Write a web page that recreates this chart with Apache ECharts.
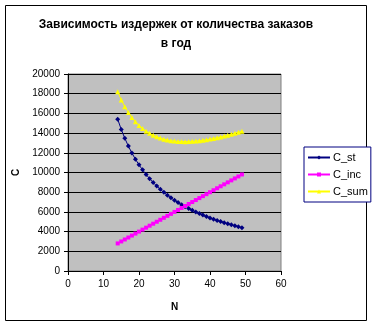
<!DOCTYPE html>
<html><head><meta charset="utf-8">
<script src="https://cdn.jsdelivr.net/npm/echarts@6/dist/echarts.min.js"></script>
<style>html,body{margin:0;padding:0;background:#fff}#c{width:374px;height:327px}</style>
</head><body><div id="c"></div>
<script>
const N = [14,15,16,17,18,19,20,21,22,23,24,25,26,27,28,29,30,31,32,33,34,35,36,37,38,39,40,41,42,43,44,45,46,47,48,49];
const C_st = [15400,14373,13475,12682,11978,11347,10780,10267,9800,9374,8983,8624,8292,7985,7700,7434,7187,6955,6738,6533,6341,6160,5989,5827,5674,5528,5390,5259,5133,5014,4900,4791,4687,4587,4492,4400];
const C_inc = [2800,3000,3200,3400,3600,3800,4000,4200,4400,4600,4800,5000,5200,5400,5600,5800,6000,6200,6400,6600,6800,7000,7200,7400,7600,7800,8000,8200,8400,8600,8800,9000,9200,9400,9600,9800];
const C_sum = [18200,17373,16675,16082,15578,15147,14780,14467,14200,13974,13783,13624,13492,13385,13300,13234,13187,13155,13138,13133,13141,13160,13189,13227,13274,13328,13390,13459,13533,13614,13700,13791,13887,13987,14092,14200];
const seriesNames = ['C_st','C_inc','C_sum'];
const titleText = 'Зависимость издержек от количества заказов\nв год';

const pairs = arr => N.map((n,i)=>[n,arr[i]]);
const font = 'Arial, "Liberation Sans", sans-serif';
const chart = echarts.init(document.getElementById('c'));
chart.setOption({
  animation:false,
  backgroundColor:'#fff',
  title:{text:titleText,left:171,top:10,textAlign:'center',
    textStyle:{fontFamily:font,fontSize:12,fontWeight:'bold',color:'#000',lineHeight:19}},
  graphic:[{type:'rect',shape:{x:5.5,y:5.5,width:361,height:315},style:{fill:'none',stroke:'#000',lineWidth:1},z:-1}],
  grid:{left:68,top:74,width:213,height:197,show:true,backgroundColor:'#c0c0c0',borderColor:'#808080',borderWidth:1},
  legend:{orient:'vertical',left:304,top:147,width:60,padding:[5,3,5,3],itemGap:6,itemWidth:22,itemHeight:5,
    borderColor:'#000080',borderWidth:1,backgroundColor:'#fff',
    textStyle:{fontFamily:font,fontSize:11,color:'#000',padding:[0,0,0,-2]},data:seriesNames},
  xAxis:{type:'value',min:0,max:60,interval:10,name:'N',nameLocation:'middle',nameGap:31,
    nameTextStyle:{fontFamily:font,fontSize:10,fontWeight:'bold',color:'#000'},
    axisLine:{show:true,lineStyle:{color:'#000'}},axisTick:{show:true,length:4,lineStyle:{color:'#000'}},
    axisLabel:{fontFamily:font,fontSize:10,color:'#000',margin:8},splitLine:{show:false}},
  yAxis:{type:'value',min:0,max:20000,interval:2000,name:'C',nameLocation:'middle',nameGap:45,nameRotate:90,
    nameTextStyle:{fontFamily:font,fontSize:10,fontWeight:'bold',color:'#000'},
    axisLine:{show:true,lineStyle:{color:'#000'}},axisTick:{show:true,length:4,lineStyle:{color:'#000'}},
    axisLabel:{fontFamily:font,fontSize:10,color:'#000',margin:8,formatter:v=>String(v)},
    splitLine:{show:true,lineStyle:{color:'#000',width:1}}},
  series:[
    {name:'C_st',type:'line',data:pairs(C_st),symbol:'diamond',symbolSize:5,
      lineStyle:{color:'#000080',width:1},itemStyle:{color:'#000080'}},
    {name:'C_inc',type:'line',data:pairs(C_inc),symbol:'rect',symbolSize:4,
      lineStyle:{color:'#ff00ff',width:1},itemStyle:{color:'#ff00ff'}},
    {name:'C_sum',type:'line',data:pairs(C_sum),symbol:'triangle',symbolSize:5,
      lineStyle:{color:'#ffff00',width:1},itemStyle:{color:'#ffff00'}}
  ]
});
</script></body></html>
